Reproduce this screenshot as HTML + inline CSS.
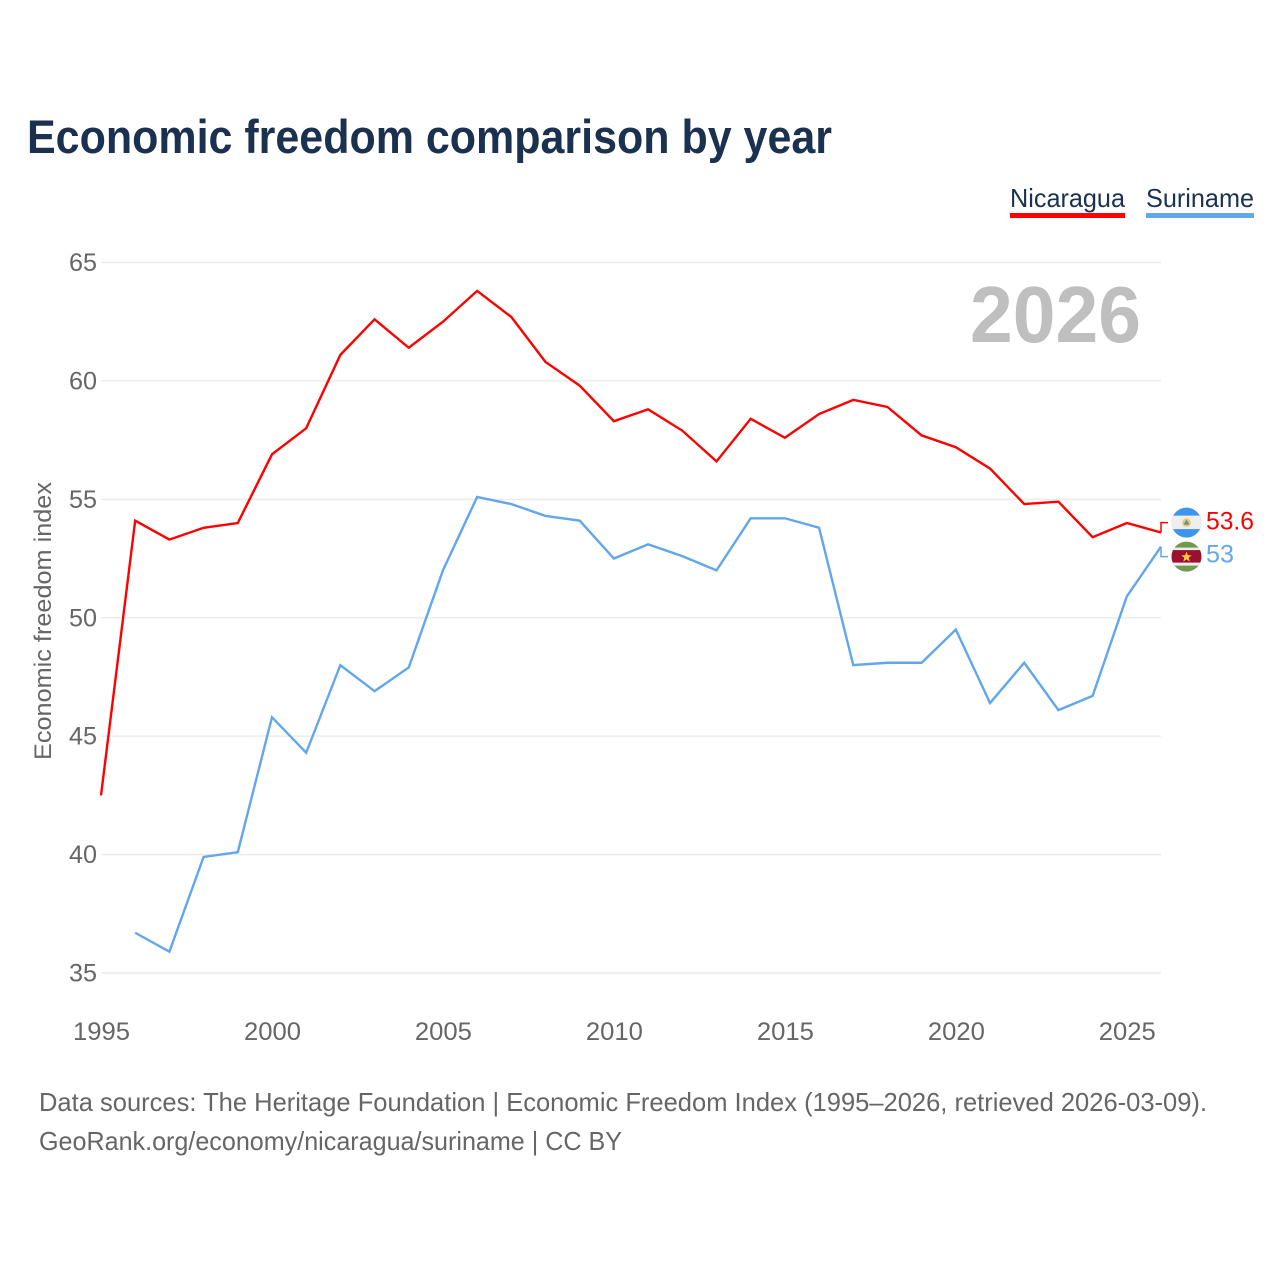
<!DOCTYPE html>
<html lang="en">
<head>
<meta charset="utf-8">
<title>Economic freedom comparison by year</title>
<style>
html,body{margin:0;padding:0;background:#fff;}
svg{display:block;}
text{font-family:"Liberation Sans",sans-serif;}
</style>
</head>
<body>
<svg id="chart" xmlns="http://www.w3.org/2000/svg" width="1280" height="1280" viewBox="0 0 1280 1280">
  <rect x="0" y="0" width="1280" height="1280" fill="#ffffff"/>
  <text x="27" y="153" font-size="47" font-weight="700" fill="#1a3150" textLength="805" lengthAdjust="spacingAndGlyphs">Economic freedom comparison by year</text>
  <g>
    <g>
      <text x="1010" y="207" font-size="26" fill="#1a3150" textLength="115" lengthAdjust="spacingAndGlyphs">Nicaragua</text>
      <rect x="1010" y="213" width="115" height="5" fill="#ff0000"/>
    </g>
    <g>
      <text x="1146" y="207" font-size="26" fill="#1a3150" textLength="108" lengthAdjust="spacingAndGlyphs">Suriname</text>
      <rect x="1146" y="213" width="108" height="5" fill="#62a6ec"/>
    </g>
  </g>
  <g id="grid"></g>
  <text id="yearLabel" x="1141" y="342" font-size="80" font-weight="700" fill="#bfbfbf" text-anchor="end" textLength="171" lengthAdjust="spacingAndGlyphs"></text>
  <g id="yTicks"></g>
  <g id="xTicks"></g>
  <text transform="translate(51,760) rotate(-90)" x="0" y="0" font-size="24" fill="#666666" textLength="278" lengthAdjust="spacingAndGlyphs">Economic freedom index</text>
  <g id="series"></g>
  <g id="ends"></g>
  <text x="39" y="1111" font-size="26" fill="#666666" textLength="1168" lengthAdjust="spacingAndGlyphs">Data sources: The Heritage Foundation | Economic Freedom Index (1995–2026, retrieved 2026-03-09).</text>
  <text x="39" y="1150" font-size="26" fill="#666666" textLength="583" lengthAdjust="spacingAndGlyphs">GeoRank.org/economy/nicaragua/suriname | CC BY</text>
</svg>
<script>
var years = [1995,1996,1997,1998,1999,2000,2001,2002,2003,2004,2005,2006,2007,2008,2009,2010,2011,2012,2013,2014,2015,2016,2017,2018,2019,2020,2021,2022,2023,2024,2025,2026];
var nicaragua = [42.5,54.1,53.3,53.8,54.0,56.9,58.0,61.1,62.6,61.4,62.5,63.8,62.7,60.8,59.8,58.3,58.8,57.9,56.6,58.4,57.6,58.6,59.2,58.9,57.7,57.2,56.3,54.8,54.9,53.4,54.0,53.6];
var suriname = [null,36.7,35.9,39.9,40.1,45.8,44.3,48.0,46.9,47.9,52.0,55.1,54.8,54.3,54.1,52.5,53.1,52.6,52.0,54.2,54.2,53.8,48.0,48.1,48.1,49.5,46.4,48.1,46.1,46.7,50.9,53.0];
var yTickValues = [35,40,45,50,55,60,65];
var xTickValues = [1995,2000,2005,2010,2015,2020,2025];

var NS = 'http://www.w3.org/2000/svg';
var RED = '#ff0000';
var BLUE = '#62a6ec';

function xScale(year) {
  return 101 + (year - 1995) * (1161 - 101) / (2026 - 1995);
}
function yScale(value) {
  return 973 + (value - 35) * (262.5 - 973) / (65 - 35);
}
function make(tag, attrs, parent) {
  var el = document.createElementNS(NS, tag);
  for (var k in attrs) { el.setAttribute(k, attrs[k]); }
  parent.appendChild(el);
  return el;
}
function linePath(values) {
  var d = '';
  var pen = false;
  for (var i = 0; i < values.length; i++) {
    if (values[i] === null) { pen = false; continue; }
    d += (pen ? 'L' : 'M') + xScale(years[i]).toFixed(2) + ' ' + yScale(values[i]).toFixed(2);
    pen = true;
  }
  return d;
}

var gridG = document.getElementById('grid');
var yG = document.getElementById('yTicks');
var xG = document.getElementById('xTicks');
var seriesG = document.getElementById('series');
var endsG = document.getElementById('ends');

yTickValues.forEach(function (v) {
  var gl = make('line', {x1: xScale(1995), x2: xScale(2026), y1: yScale(v), y2: yScale(v), stroke: '#ececec', 'stroke-width': 1.5}, gridG);
  
  
  var t = make('text', {x: 97, y: yScale(v) + 8.5, 'font-size': 25, fill: '#666666', 'text-anchor': 'end', textLength: 28, lengthAdjust: 'spacingAndGlyphs'}, yG);
  
  
  t.textContent = String(v);
});

xTickValues.forEach(function (y) {
  var t = make('text', {x: xScale(y) + 0.5, y: 1040, 'font-size': 25, fill: '#666666', 'text-anchor': 'middle', textLength: 57, lengthAdjust: 'spacingAndGlyphs'}, xG);
  
  
  t.textContent = String(y);
});

document.getElementById('yearLabel').textContent = String(years[years.length - 1]);

var nicPath = make('path', {d: linePath(nicaragua), fill: 'none', stroke: RED, 'stroke-width': 2.4, 'stroke-linejoin': 'miter'}, seriesG);



var surPath = make('path', {d: linePath(suriname), fill: 'none', stroke: BLUE, 'stroke-width': 2.4, 'stroke-linejoin': 'miter'}, seriesG);



var lastN = nicaragua[nicaragua.length - 1];
var lastS = suriname[suriname.length - 1];
var endX = xScale(years[years.length - 1]);
var midY = (yScale(lastN) + yScale(lastS)) / 2;
var nUp = lastN >= lastS;
var nLabelY = midY + (nUp ? -17 : 17);
var sLabelY = midY + (nUp ? 17 : -17);

var nConn = make('path', {d: 'M' + endX + ' ' + yScale(lastN) + 'V' + nLabelY + 'H1168', fill: 'none', stroke: RED, 'stroke-width': 1.5}, endsG);



var sConn = make('path', {d: 'M' + endX + ' ' + yScale(lastS) + 'V' + sLabelY + 'H1168', fill: 'none', stroke: BLUE, 'stroke-width': 1.5}, endsG);



var clip1 = make('clipPath', {id: 'clipNic'}, endsG);
make('circle', {cx: 1186.5, cy: nLabelY, r: 15}, clip1);
var clip2 = make('clipPath', {id: 'clipSur'}, endsG);
make('circle', {cx: 1186.5, cy: sLabelY, r: 15}, clip2);

var nFlag = make('g', {'clip-path': 'url(#clipNic)'}, endsG);


make('rect', {x: 1171, y: nLabelY - 16, width: 31, height: 32, fill: '#3f94f0'}, nFlag);
make('rect', {x: 1171, y: nLabelY - 7, width: 31, height: 13.5, fill: '#eeeeee'}, nFlag);
make('circle', {cx: 1186.5, cy: nLabelY, r: 4.2, fill: '#f2c94c'}, nFlag);
make('path', {d: 'M1186.5 ' + (nLabelY - 3) + 'l3 5h-6z', fill: '#4a90c8'}, nFlag);

var sFlag = make('g', {'clip-path': 'url(#clipSur)'}, endsG);


make('rect', {x: 1171, y: sLabelY - 16, width: 31, height: 32, fill: '#6f9a4e'}, sFlag);
make('rect', {x: 1171, y: sLabelY - 9, width: 31, height: 18, fill: '#eeeeee'}, sFlag);
make('rect', {x: 1171, y: sLabelY - 6.5, width: 31, height: 12.5, fill: '#9b1030'}, sFlag);
make('path', {d: 'M1186.5 ' + (sLabelY - 5) + 'l1.4 3.6 3.8 .2-3 2.4 1 3.7-3.2-2.1-3.2 2.1 1-3.7-3-2.4 3.8-.2z', fill: '#f4cf3a'}, sFlag);

var nText = make('text', {x: 1206, y: nLabelY + 7, 'font-size': 25, fill: RED, textLength: 48, lengthAdjust: 'spacingAndGlyphs'}, endsG);


nText.textContent = String(lastN);

var sText = make('text', {x: 1206, y: sLabelY + 6, 'font-size': 25, fill: BLUE, textLength: 28, lengthAdjust: 'spacingAndGlyphs'}, endsG);


sText.textContent = String(lastS);
</script>
</body>
</html>
